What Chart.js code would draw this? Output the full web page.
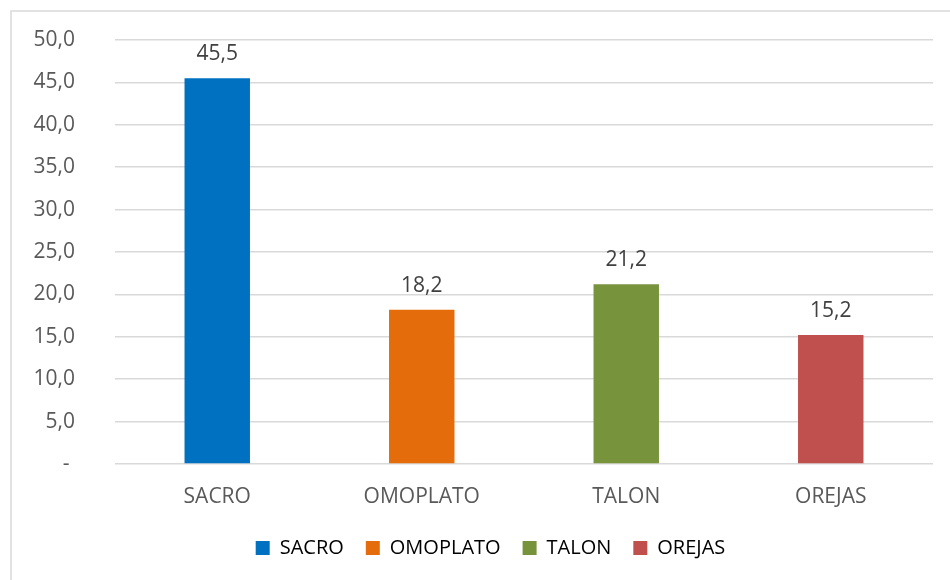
<!DOCTYPE html>
<html>
<head>
<meta charset="utf-8">
<script src="https://cdn.jsdelivr.net/npm/chart.js@4"></script>
<style>
  html, body { margin: 0; padding: 0; background: #fff; }
  #wrap { width: 950px; height: 580px; }
</style>
</head>
<body>
<div id="wrap"><canvas id="chart" width="950" height="580"></canvas></div>
<script>
// datos
const zonas = ['SACRO', 'OMOPLATO', 'TALON', 'OREJAS'];
const porcentajes = [45.5, 18.2, 21.2, 15.2];
const colores = ['#0070C0', '#E46C0A', '#77933C', '#C0504D'];

const fmt = v => v.toFixed(1).replace('.', ',');
const FONT = '"Open Sans", sans-serif';

// marco gris (solo se ven el borde superior y el izquierdo)
const marco = {
    id: 'marco',
    beforeDraw(chart) {
        const ctx = chart.ctx;
        ctx.save();
        ctx.strokeStyle = '#d9d9d9';
        ctx.lineWidth = 1.5;
        ctx.beginPath();
        ctx.moveTo(950, 11);
        ctx.lineTo(11, 11);
        ctx.lineTo(11, 580);
        ctx.stroke();
        ctx.restore();
    }
};

// la leyenda va centrada bajo el area de trazado, un poco a la derecha
const moverLeyenda = {
    id: 'moverLeyenda',
    afterLayout(chart) {
        chart.legend.left += 14;
        chart.legend.right += 14;
    }
};

// etiquetas de valor encima de cada barra
const etiquetas = {
    id: 'etiquetas',
    afterDatasetsDraw(chart) {
        const ctx = chart.ctx;
        const meta = chart.getDatasetMeta(0);
        ctx.save();
        ctx.font = '21px ' + FONT;
        ctx.fillStyle = '#404040';
        ctx.textAlign = 'center';
        ctx.textBaseline = 'middle';
        meta.data.forEach((bar, i) => {
            ctx.fillText(fmt(porcentajes[i]), bar.x, bar.y - 24);
        });
        ctx.restore();
    }
};

new Chart(document.getElementById('chart'), {
    type: 'bar',
    data: {
        labels: zonas,
        datasets: [{
            data: porcentajes,
            backgroundColor: colores,
            barPercentage: 0.32,
            categoryPercentage: 1.0
        }]
    },
    options: {
        responsive: false,
        animation: false,
        layout: {
            padding: { left: 20, right: 17, top: 40, bottom: 12 }
        },
        scales: {
            x: {
                afterFit(scale) { scale.height = 52; },
                grid: { display: false },
                border: { display: false },
                ticks: {
                    color: '#595959',
                    font: { family: FONT, size: 21 },
                    padding: 12
                }
            },
            y: {
                min: 0,
                max: 50,
                afterFit(scale) {
                    scale.width = 95;
                    scale.paddingTop = 0;
                },
                grid: { color: '#d9d9d9', lineWidth: 1.5, drawTicks: false },
                border: { display: false },
                ticks: {
                    stepSize: 5,
                    padding: 40,
                    color: '#595959',
                    font: { family: FONT, size: 21 },
                    callback: v => v === 0 ? '- ' : fmt(v)
                }
            }
        },
        plugins: {
            tooltip: { enabled: false },
            legend: {
                position: 'bottom',
                labels: {
                    color: '#595959',
                    font: { family: FONT, size: 20 },
                    boxWidth: 14,
                    boxHeight: 14,
                    padding: 22,
                    generateLabels() {
                        return zonas.map((z, i) => ({
                            text: z,
                            fillStyle: colores[i],
                            strokeStyle: colores[i],
                            lineWidth: 0,
                            index: i
                        }));
                    }
                }
            }
        }
    },
    plugins: [marco, moverLeyenda, etiquetas]
});
</script>
</body>
</html>
